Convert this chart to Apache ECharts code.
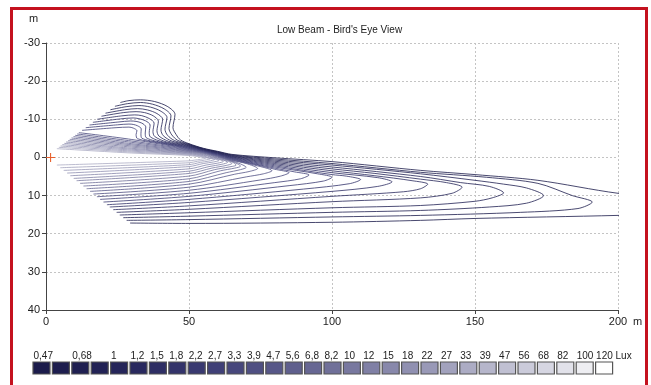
<!DOCTYPE html>
<html><head><meta charset="utf-8">
<script src="https://cdn.jsdelivr.net/npm/echarts/dist/echarts.min.js"></script>
<style>html,body{margin:0;padding:0;background:#fff}#c{width:651px;height:385px}</style>
</head><body><div id="c"></div>
<script>
const FONT = "'Liberation Sans',Arial,sans-serif";
const chartTitle = "Low Beam - Bird's Eye View";
const xTicks = [0, 50, 100, 150, 200];
const yTicks = [-30, -20, -10, 0, 10, 20, 30, 40];
const legendLabels = ['0,47','','0,68','','1','1,2','1,5','1,8','2,2','2,7','3,3','3,9','4,7','5,6','6,8','8,2','10','12','15','18','22','27','33','39','47','56','68','82','100','120'];
const legendUnit = 'Lux';
const levelColors = ['#1b1b4b','#1d1d4e','#1f1f51','#222255','#252559','#29295e','#2e2e64','#33336a','#393970','#404077','#47477c','#4f4f82','#575788','#5f5f8d','#676793','#707099','#78789f','#8080a5','#8888ab','#9090b1','#9999b7','#a2a2bd','#acacc4','#b6b6cb','#c0c0d2','#cbcbda','#d6d6e2','#e2e2ea','#eeeef2','#ffffff'];
const sourcePoint = [1.6, 0];

// isolux contours (x = distance m, y = lateral m)
const lux_0_47 = [[29.4,17.2],[50,17.3],[100,17.0],[131,16.5],[150,16.0],[200,15.2],[232,14.5],[238,13.2],[232,11.8],[200,9.4],[172,6.0],[150,4.5],[131,3.4],[100,1.1],[80,0.1],[65,-0.8],[60,-1.6],[55,-2.4],[50,-3.6],[47,-4.6],[45.5,-6.0],[44.4,-7.8],[45.1,-11.3],[42.6,-13.3],[38,-14.65],[33,-15.1],[29,-14.9],[26.0,-14.4]];
const lux_0_56 = [[28.2,16.5],[50,16.3],[100,15.6],[131,15.2],[166,14.4],[186,13.4],[191,11.7],[184,10.0],[172,6.8],[154,5.2],[131,3.9],[100,1.6],[80,0.4],[65,-0.67],[60,-1.5],[55,-2.31],[50,-3.46],[46,-4.5],[44,-5.9],[43,-7.6],[43.7,-10.9],[41.4,-12.7],[37.3,-13.95],[33,-14.4],[28.5,-14.1],[24.1,-13.4]];
const lux_0_68 = [[27.0,15.8],[50,15.4],[100,14.4],[131,13.9],[155,13.0],[168,12.0],[174,10.0],[168,8.0],[160,7.0],[150,6.0],[131,4.3],[100,2.0],[80,0.7],[65,-0.54],[60,-1.4],[55,-2.22],[50,-3.32],[45,-4.4],[42.5,-5.8],[41.6,-7.4],[42.3,-10.5],[40.2,-12.1],[36.5,-13.2],[32.5,-13.6],[28,-13.3],[22.5,-12.5]];
const lux_0_82 = [[25.8,15.1],[50,14.5],[100,13.2],[131,12.6],[150,11.5],[156,10.6],[160,9.3],[155,7.6],[145,6.6],[131,5.0],[100,2.5],[80,1.0],[65,-0.41],[60,-1.3],[55,-2.13],[50,-3.18],[44,-4.3],[41,-5.7],[40.2,-7.2],[40.8,-10.0],[38.8,-11.5],[35.5,-12.45],[32,-12.8],[27.5,-12.5],[20.8,-11.6]];
const lux_1 = [[24.7,14.4],[50,13.6],[100,11.6],[131,10.6],[142,9.4],[145.5,7.8],[140,6.6],[131,5.7],[115,4.2],[100,3.0],[80,1.3],[65,-0.28],[60,-1.2],[55,-2.04],[50,-3.04],[43,-4.2],[39.5,-5.6],[38.8,-7.0],[39.3,-9.5],[37.5,-10.9],[34.5,-11.75],[31.5,-12.0],[27,-11.75],[19.4,-10.8]];
const lux_1_2 = [[23.5,13.7],[50,12.7],[100,10.2],[125,9.0],[131,8.2],[133.5,7.0],[128,6.1],[115,4.8],[100,3.5],[80,1.6],[65,-0.15],[60,-1.1],[55,-1.95],[50,-2.9],[42,-4.1],[38,-5.5],[37.4,-6.8],[37.8,-9.0],[36.1,-10.2],[33.5,-10.95],[31,-11.15],[26.5,-10.9],[17.9,-10.0]];
const lux_1_5 = [[22.3,13.0],[50,11.8],[100,8.9],[116,7.6],[121,6.4],[116,5.3],[100,4.0],[80,1.9],[65,-0.02],[60,-1.0],[55,-1.86],[50,-2.76],[41,-4.05],[36.5,-5.35],[36.1,-6.6],[36.4,-8.5],[34.8,-9.6],[32.5,-10.15],[30.5,-10.35],[26,-10.1],[16.4,-9.2]];
const lux_1_8 = [[21.3,12.4],[50,11.0],[90,8.3],[106,6.9],[110,5.8],[105,4.9],[100,4.5],[80,2.2],[65,0.11],[60,-0.9],[55,-1.77],[50,-2.62],[40,-4.0],[35,-5.2],[34.7,-6.4],[34.9,-8.0],[33.5,-9.0],[31.5,-9.45],[29.5,-9.55],[25.5,-9.3],[15.2,-8.5]];
const lux_2_2 = [[20.1,11.7],[50,10.2],[85,7.4],[97,6.2],[100,5.2],[95,4.3],[80,2.5],[65,0.24],[60,-0.8],[55,-1.68],[50,-2.48],[40,-3.85],[33.5,-5.05],[33.2,-6.2],[33.3,-7.5],[32,-8.3],[30.5,-8.65],[29,-8.75],[25,-8.55],[13.9,-7.8]];
const lux_2_7 = [[18.9,11.0],[50,9.4],[80,6.6],[89,5.6],[92,4.6],[87,3.8],[80,2.8],[65,0.37],[60,-0.7],[55,-1.59],[50,-2.34],[40,-3.7],[32,-4.9],[31.5,-6.0],[31.8,-7.0],[30.5,-7.7],[29,-7.95],[24.5,-7.8],[12.6,-7.1]];
const lux_3_3 = [[17.8,10.3],[50,8.6],[75,5.9],[82,4.9],[85,4.0],[80,3.1],[72,1.65],[65,0.5],[60,-0.6],[55,-1.5],[50,-2.2],[30,-4.7],[11.5,-6.5]];
const lux_3_9 = [[16.6,9.6],[50,7.8],[70,5.1],[76,4.3],[79,3.5],[72,1.85],[65,0.63],[60,-0.5],[55,-1.41],[50,-2.06],[30,-4.3],[10.9,-6.15]];
const lux_4_7 = [[15.4,8.9],[50,7.0],[66,4.4],[71,3.7],[74,2.9],[70,1.6],[65,0.76],[60,-0.4],[55,-1.32],[50,-1.92],[30,-3.95],[10.2,-5.8]];
const lux_5_6 = [[14.2,8.2],[50,6.3],[63,4.0],[68,3.2],[70,2.6],[68,1.7],[65,0.89],[60,-0.3],[55,-1.23],[50,-1.78],[30,-3.6],[9.6,-5.45]];
const lux_6_8 = [[13.1,7.5],[50,5.6],[61,3.5],[66,2.8],[68,2.3],[65,1.02],[60,-0.2],[55,-1.14],[50,-1.64],[30,-3.3],[8.9,-5.1]];
const lux_8_2 = [[11.9,6.8],[50,4.9],[59,3.2],[64,2.5],[66.5,2.0],[65,1.15],[60,-0.05],[55,-1.05],[50,-1.5],[30,-3.0],[8.3,-4.75]];
const lux_10 = [[10.7,6.1],[50,4.2],[58,2.8],[63,2.1],[65,1.6],[60,0.1],[55,-0.9],[50,-1.36],[30,-2.7],[7.7,-4.4]];
const lux_12 = [[9.7,5.5],[50,3.6],[57,2.4],[61.5,1.8],[63.5,1.3],[58,-0.15],[55,-0.75],[50,-1.22],[30,-2.4],[7.0,-4.05]];
const lux_15 = [[8.5,4.8],[50,3.0],[56,2.0],[60,1.5],[62,1.05],[58,0.0],[55,-0.6],[50,-1.08],[30,-2.15],[6.4,-3.7]];
const lux_18 = [[7.4,4.1],[50,2.4],[55,1.6],[58.5,1.2],[60.5,0.8],[57,0.1],[55,-0.45],[50,-0.94],[30,-1.9],[5.7,-3.35]];
const lux_22 = [[6.2,3.4],[50,1.9],[54,1.3],[57,0.95],[59,0.55],[56,0.05],[55,-0.3],[50,-0.8],[30,-1.65],[5.1,-3.0]];
const lux_27 = [[5.0,2.7],[50,1.4],[53,1.0],[55.5,0.7],[57.5,0.35],[55,-0.15],[50,-0.66],[30,-1.4],[4.5,-2.65]];
const lux_33 = [[3.8,2.0],[50,0.9],[52,0.7],[54,0.5],[56,0.15],[54,-0.1],[50,-0.52],[30,-1.15],[3.8,-2.3]];

const contours = [lux_0_47, lux_0_56, lux_0_68, lux_0_82, lux_1, lux_1_2, lux_1_5, lux_1_8, lux_2_2, lux_2_7, lux_3_3, lux_3_9, lux_4_7, lux_5_6, lux_6_8, lux_8_2, lux_10, lux_12, lux_15, lux_18, lux_22, lux_27, lux_33];

const chart = echarts.init(document.getElementById('c'), null, {renderer: 'canvas'});
const txt = {fontFamily: FONT, fontSize: 11, color: '#222'};

const series = contours.map((pts, k) => ({
  type: 'line', xAxisIndex: 0, yAxisIndex: 0, data: pts, showSymbol: false, symbol: 'none',
  smooth: 0.3, clip: true, silent: true,
  lineStyle: {width: 1, color: levelColors[k], opacity: 0.8}, z: 3
}));
series.push({
  type: 'scatter', xAxisIndex: 0, yAxisIndex: 0, data: [sourcePoint], silent: true,
  symbol: 'path://M0,4.4h10v1.2h-10zM4.4,0h1.2v10h-1.2z', symbolSize: 9,
  itemStyle: {color: '#e8602c', opacity: 1}, z: 5
});
series.push({
  type: 'scatter', xAxisIndex: 1, yAxisIndex: 1, silent: true,
  symbol: 'rect', symbolSize: [17, 12],
  data: legendLabels.map((l, i) => ({value: [i, 0.5], itemStyle: {color: levelColors[i], opacity: 1, borderColor: '#555', borderWidth: 1}})),
  label: {show: true, position: 'top', distance: 0, align: 'left', offset: [-8, 0],
    fontFamily: FONT, fontSize: 10, color: '#222',
    formatter: p => p.dataIndex === legendLabels.length - 1 ? legendLabels[p.dataIndex] + ' ' + legendUnit : legendLabels[p.dataIndex]}
});

chart.setOption({
  animation: false,
  backgroundColor: '#fff',
  title: {text: chartTitle, left: 272, top: 20, textStyle: {fontFamily: FONT, fontSize: 10, fontWeight: 'normal', color: '#222'}},
  grid: [
    {left: 46, right: 33, top: 43, bottom: 75},
    {left: 31.8, width: 582, top: 362, height: 12}
  ],
  xAxis: [
    {type: 'value', gridIndex: 0, min: xTicks[0], max: xTicks[xTicks.length-1], interval: xTicks[1]-xTicks[0],
     axisLine: {show: true, onZero: false, lineStyle: {color: '#444', width: 1}},
     axisTick: {show: true, length: 4, lineStyle: {color: '#444'}},
     axisLabel: Object.assign({margin: 6}, txt),
     splitLine: {show: true, lineStyle: {color: '#c4c4c4', type: [2, 2], width: 1}}},
    {type: 'category', gridIndex: 1, data: legendLabels.map((l, i) => i), boundaryGap: true, show: false}
  ],
  yAxis: [
    {type: 'value', gridIndex: 0, inverse: true, min: yTicks[0], max: yTicks[yTicks.length-1], interval: 10,
     axisLine: {show: true, onZero: false, lineStyle: {color: '#444', width: 1}},
     axisTick: {show: true, length: 4, lineStyle: {color: '#444'}},
     axisLabel: Object.assign({margin: 6}, txt),
     splitLine: {show: true, lineStyle: {color: '#c4c4c4', type: [2, 2], width: 1}}},
    {type: 'value', gridIndex: 1, min: 0, max: 1, show: false}
  ],
  graphic: [
    {type: 'rect', shape: {x: 11.5, y: 8.5, width: 635, height: 420}, style: {fill: 'none', stroke: '#c4121f', lineWidth: 3}, silent: true, z: 10},
    {type: 'text', left: 29, top: 13, style: {text: 'm', font: "11px " + FONT, fill: '#222'}},
    {type: 'text', left: 633, top: 316, style: {text: 'm', font: "11px " + FONT, fill: '#222'}}
  ],
  series: series
});
</script>
</body></html>
